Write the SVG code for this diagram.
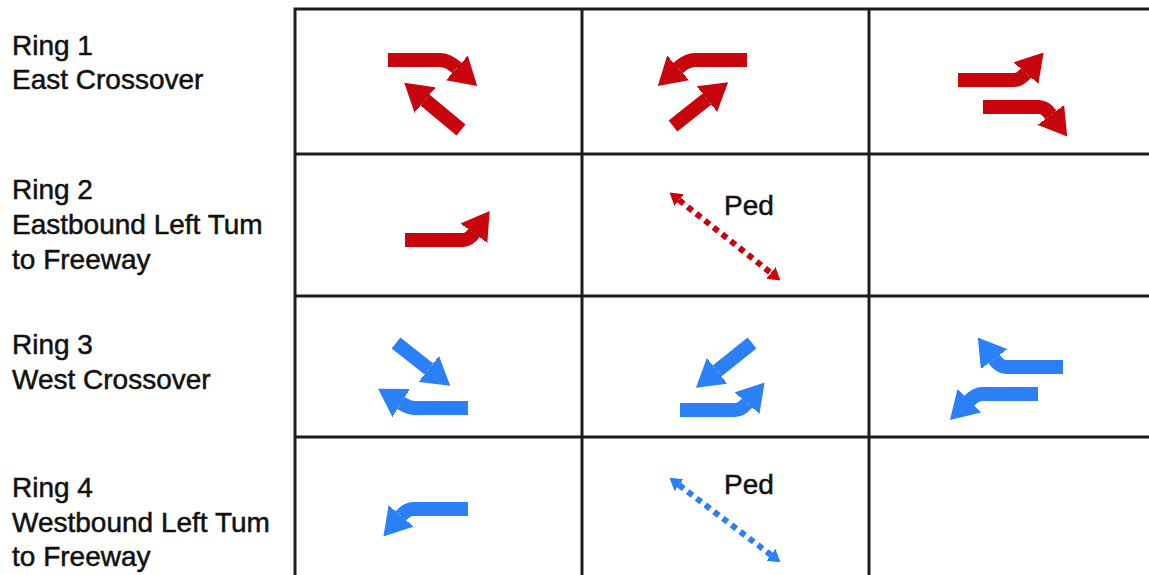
<svg xmlns="http://www.w3.org/2000/svg" width="1149" height="575" viewBox="0 0 1149 575">
<style>
.lbl{font-family:"Liberation Sans",Arial,sans-serif;font-size:28px;fill:#111;stroke:#111;stroke-width:0.5px}
.grid{stroke:#1c1c1c;stroke-width:3;fill:none}
.r{stroke:#c8040c;stroke-width:14;fill:none}
.b{stroke:#2b80f5;stroke-width:14;fill:none}
.rd{stroke:#c8040c;stroke-width:6;stroke-dasharray:6 5;fill:none}
.bd{stroke:#2b80f5;stroke-width:6;stroke-dasharray:6 5;fill:none}
</style>
<defs>
<marker id="hr" markerUnits="userSpaceOnUse" viewBox="0 -17 27 34" markerWidth="27" markerHeight="34" refX="0" refY="0" orient="auto"><path d="M-1,-17 L27,0 L-1,17 Z" fill="#c8040c"/></marker>
<marker id="hb" markerUnits="userSpaceOnUse" viewBox="0 -17 27 34" markerWidth="27" markerHeight="34" refX="0" refY="0" orient="auto"><path d="M-1,-17 L27,0 L-1,17 Z" fill="#2b80f5"/></marker>
<marker id="sr" markerUnits="userSpaceOnUse" viewBox="0 -8 12 16" markerWidth="12" markerHeight="16" refX="0" refY="0" orient="auto-start-reverse"><path d="M-1,-8 L12,0 L-1,8 Z" fill="#c8040c"/></marker>
<marker id="sb" markerUnits="userSpaceOnUse" viewBox="0 -8 12 16" markerWidth="12" markerHeight="16" refX="0" refY="0" orient="auto-start-reverse"><path d="M-1,-8 L12,0 L-1,8 Z" fill="#2b80f5"/></marker>
</defs>
<rect width="1149" height="575" fill="#fff"/>
<g id="labels">
<g id="ring1"><text class="lbl" x="12" y="55">Ring 1</text><text class="lbl" x="12" y="89">East Crossover</text></g>
<g id="ring2"><text class="lbl" x="12" y="199">Ring 2</text><text class="lbl" x="12" y="234">Eastbound Left Tum</text><text class="lbl" x="12" y="269">to Freeway</text></g>
<g id="ring3"><text class="lbl" x="12" y="354">Ring 3</text><text class="lbl" x="12" y="389">West Crossover</text></g>
<g id="ring4"><text class="lbl" x="12" y="497">Ring 4</text><text class="lbl" x="12" y="532">Westbound Left Tum</text><text class="lbl" x="12" y="566">to Freeway</text></g>
</g>
<g id="grid">
<path class="grid" d="M295,575 V9 H1149 M295,154 H1149 M295,296 H1149 M295,437 H1149 M582,9 V575 M869,9 V575"/>
</g>
<g id="connectors">
<g id="r1c1"><path class="r" d="M388,60 H440 Q448,60 457,68" marker-end="url(#hr)"/><path class="r" d="M461,130 L425,100" marker-end="url(#hr)"/></g>
<g id="r1c2"><path class="r" d="M747,60 H695 Q687,60 678,68" marker-end="url(#hr)"/><path class="r" d="M673,126 L707,99" marker-end="url(#hr)"/></g>
<g id="r1c3"><path class="r" d="M958,80 H1014 Q1020,80 1026,73" marker-end="url(#hr)"/><path class="r" d="M983,107 H1039 Q1045,107 1051,115" marker-end="url(#hr)"/></g>
<g id="r2c1"><path class="r" d="M405,240 H463 Q469,240 474,233" marker-end="url(#hr)"/></g>
<g id="r2c2"><path class="rd" d="M679,200 L771,273" marker-start="url(#sr)" marker-end="url(#sr)"/><text class="lbl" x="724" y="215">Ped</text></g>
<g id="r3c1"><path class="b" d="M396,343 L429,369" marker-end="url(#hb)"/><path class="b" d="M468,408 H415 Q409,408 401,403" marker-end="url(#hb)"/></g>
<g id="r3c2"><path class="b" d="M752,343 L717,371" marker-end="url(#hb)"/><path class="b" d="M680,410 H735 Q741,410 747,403" marker-end="url(#hb)"/></g>
<g id="r3c3"><path class="b" d="M1063,367 H1006 Q1000,367 994,359" marker-end="url(#hb)"/><path class="b" d="M1038,394 H982 Q976,394 969,401" marker-end="url(#hb)"/></g>
<g id="r4c1"><path class="b" d="M468,509 H413 Q407,509 401,516" marker-end="url(#hb)"/></g>
<g id="r4c2"><path class="bd" d="M679,485 L771,555" marker-start="url(#sb)" marker-end="url(#sb)"/><text class="lbl" x="724" y="494">Ped</text></g>
</g>
</svg>
